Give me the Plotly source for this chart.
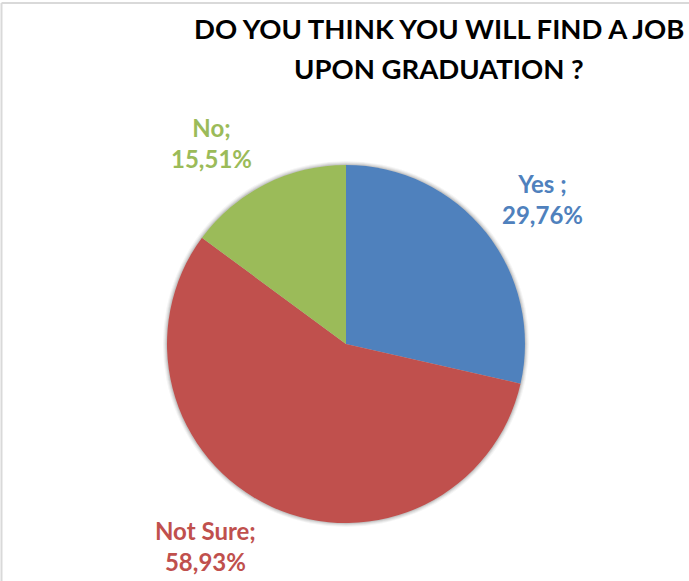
import plotly.graph_objects as go

# Survey answers and their shares (%)
labels = ["Yes", "Not Sure", "No"]
shares = [29.76, 58.93, 15.51]
label_texts = ["Yes ;", "Not Sure;", "No;"]
colors = ["#4F81BD", "#C0504D", "#9BBB59"]
title_lines = ["DO YOU THINK YOU WILL FIND A JOB", "UPON GRADUATION ?"]

W, H = 689, 581
cx, cy, R = 346, 344, 179  # pie centre and radius in pixels
# label anchor points (pixels) for each category
label_pos = [(542, 199), (205, 546), (211, 143)]

def dom(r):
    return dict(x=[(cx - r) / W, (cx + r) / W], y=[1 - (cy + r) / H, 1 - (cy - r) / H])

fig = go.Figure()

# soft drop shadow: a few faint grey discs slightly larger than the pie
for dr, a in [(4, 0.04), (3, 0.05), (2, 0.07), (1, 0.09)]:
    fig.add_trace(go.Pie(
        values=[1], labels=["s"], domain=dom(R + dr), sort=False,
        marker=dict(colors=[f"rgba(0,0,0,{a})"], line=dict(width=0)),
        textinfo="none", hoverinfo="skip", showlegend=False,
    ))

fig.add_trace(go.Pie(
    labels=labels, values=shares, domain=dom(R), sort=False,
    direction="clockwise", rotation=0,
    marker=dict(colors=colors, line=dict(width=0)),
    textinfo="none", showlegend=False,
))

# category labels outside the slices
for txt, v, c, (px, py) in zip(label_texts, shares, colors, label_pos):
    fig.add_annotation(
        x=px / W, y=1 - py / H, xref="paper", yref="paper",
        text=f"<b>{txt}<br>{v:.2f}%</b>".replace(".", ","),
        showarrow=False, xanchor="center", yanchor="middle",
        font=dict(family="Lato", size=24, color=c),
    )

# two-line title
for k, line in enumerate(title_lines):
    fig.add_annotation(
        x=439 / W, y=1 - (28 + 41 * k) / H, xref="paper", yref="paper",
        text=f"<b>{line}</b>", showarrow=False, xanchor="center", yanchor="middle",
        font=dict(family="Lato", size=27.5, color="#000000"),
    )

# light frame along the top and left edges
fig.add_shape(type="line", xref="paper", yref="paper", x0=1.5 / W, x1=1, y0=1 - 3 / H, y1=1 - 3 / H,
              line=dict(color="#D9D9D9", width=2))
fig.add_shape(type="line", xref="paper", yref="paper", x0=1.5 / W, x1=1.5 / W, y0=0, y1=1 - 3 / H,
              line=dict(color="#D9D9D9", width=2))

fig.update_layout(
    width=W, height=H, margin=dict(l=0, r=0, t=0, b=0),
    paper_bgcolor="white", plot_bgcolor="white",
)

fig.write_html("out.html")
